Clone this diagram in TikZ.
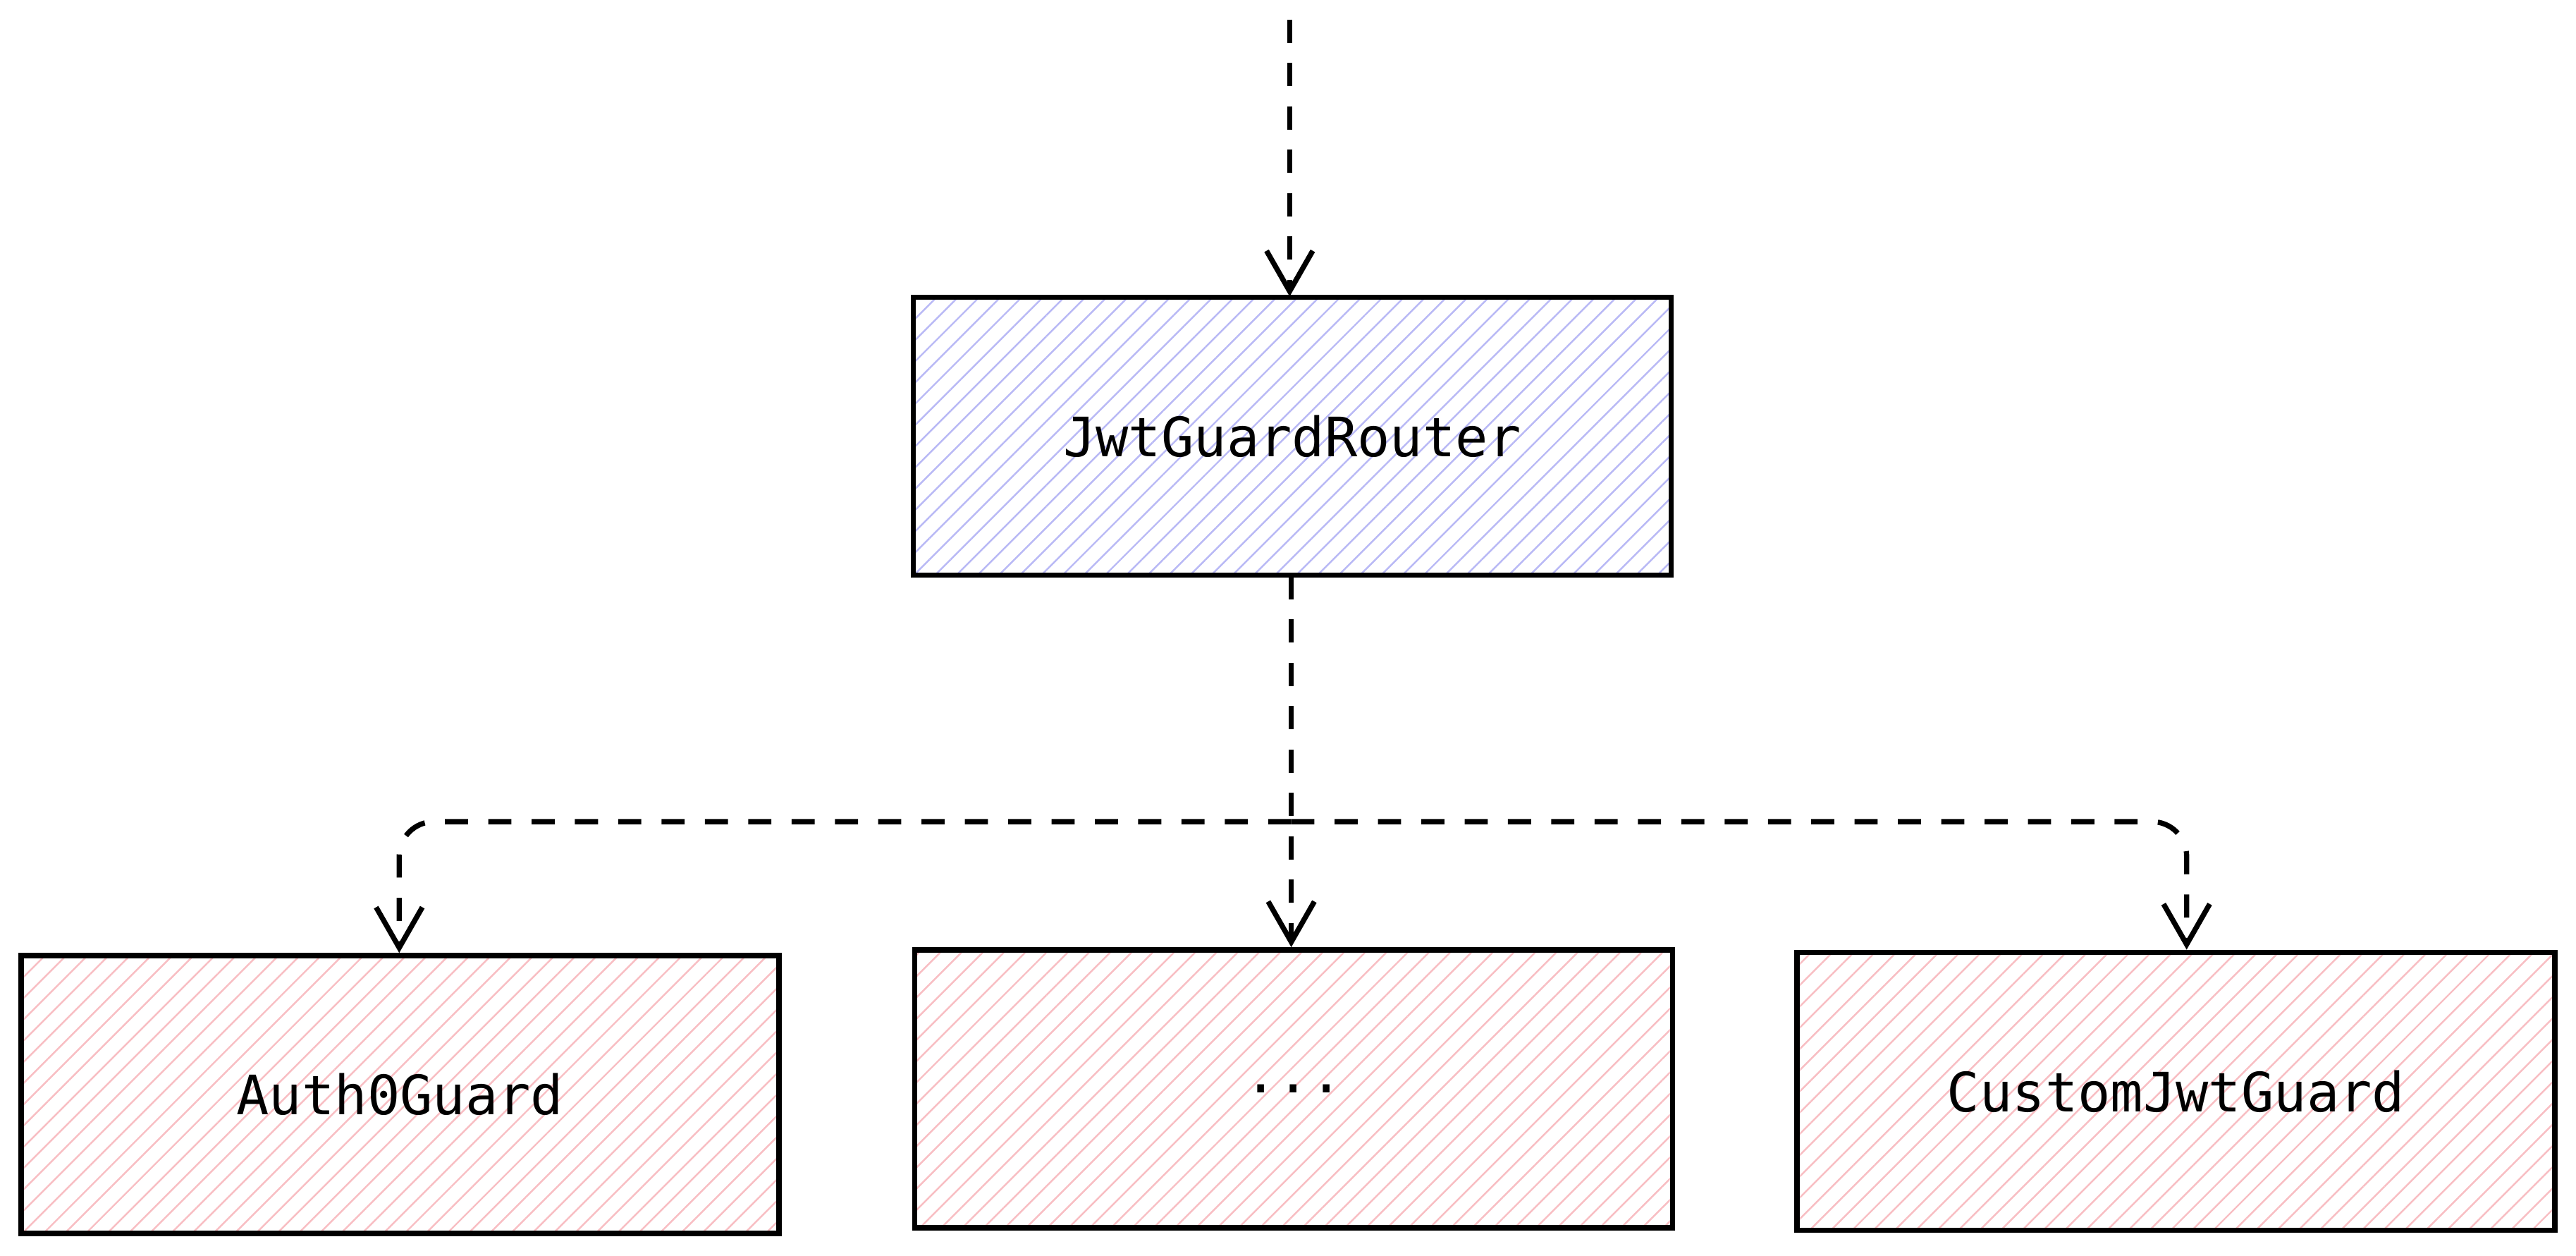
\documentclass[tikz,border=0pt]{standalone}
\usepackage{fontspec}
\setmonofont{DejaVu Sans Mono}
\usetikzlibrary{arrows.meta,patterns.meta}
\definecolor{hblue}{RGB}{185,185,245}
\definecolor{hred}{RGB}{248,190,195}
\tikzset{
 box/.style={draw=black,line width=0.9pt,minimum width=4.61cm,minimum height=1.69cm,font=\ttfamily\fontsize{9.4}{11}\selectfont,inner sep=0pt},
 bluebox/.style={box,pattern={Lines[angle=45,distance=2.6pt,line width=0.3pt]},pattern color=hblue},
 redbox/.style={box,pattern={Lines[angle=45,distance=2.6pt,line width=0.3pt]},pattern color=hred},
 conn/.style={draw,line width=0.9pt,dash pattern=on 4pt off 3.5pt,rounded corners=6pt,-{Straight Barb[length=7pt,width=8pt,line width=0.9pt]}}
}
\begin{document}
\begin{tikzpicture}[x=0.01cm,y=-0.01cm]
\useasboundingbox (0,0) rectangle (1568,764);
\node[bluebox] (r) at (786.5,265.5) {JwtGuardRouter};
\node[redbox] (a) at (243.5,666) {Auth0Guard};
\node[redbox] (m) at (787.5,662.5) {...};
\node[redbox] (c) at (1324.5,664) {CustomJwtGuard};
\coordinate (s) at (785,12);
\coordinate (j) at (786,500);
\draw[conn] (s) -- (r.north -| s);
\draw[conn] (r.south -| j) -- (m.north -| j);
\draw[conn] (j) -- (243,500) -- (a.north -| 243,0);
\draw[conn] (j) -- (1331,500) -- (c.north -| 1331,0);
\end{tikzpicture}
\end{document}
